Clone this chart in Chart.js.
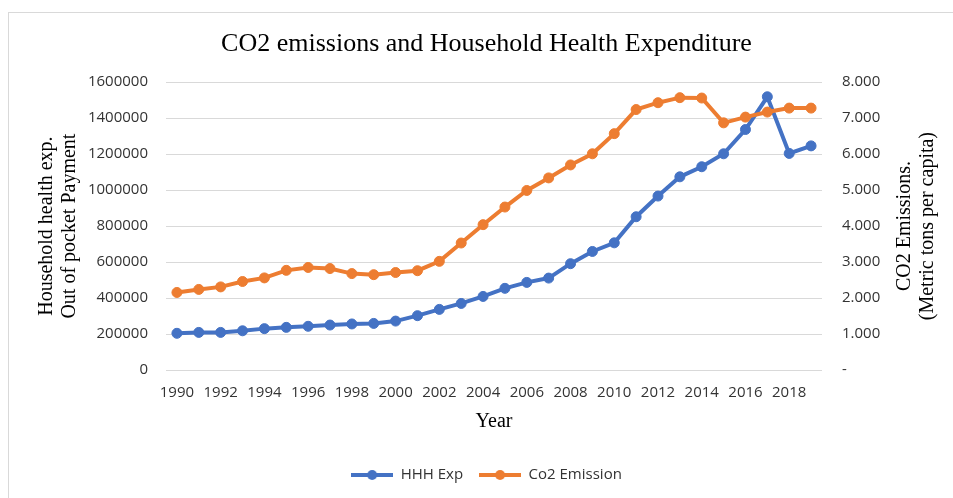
<!DOCTYPE html>
<html><head><meta charset="utf-8">
<script src="https://cdn.jsdelivr.net/npm/chart.js@4.4.1/dist/chart.umd.min.js"></script>
<style>
html,body{margin:0;padding:0;background:#fff;overflow:hidden}
#wrap{position:relative;width:953px;height:498px}
#frame{position:absolute;left:8px;top:12px;width:2000px;height:2000px;border-left:1px solid #d9d9d9;border-top:1px solid #d9d9d9;box-sizing:border-box}
canvas{position:absolute;left:0;top:0}
</style></head><body>
<div id="wrap"><div id="frame"></div><canvas id="c" width="953" height="498"></canvas></div>
<script>
const years = ['1990','1991','1992','1993','1994','1995','1996','1997','1998','1999','2000','2001','2002','2003','2004','2005','2006','2007','2008','2009','2010','2011','2012','2013','2014','2015','2016','2017','2018','2019'];
const hhhExp = [204000,209000,209000,218000,230000,237000,243000,250000,256000,259000,272000,302000,337000,370000,409000,454000,487000,511000,591000,659000,707000,852000,967000,1074000,1130000,1202000,1337000,1519000,1204000,1246000];
const co2Emission = [2.155,2.24,2.31,2.46,2.56,2.77,2.85,2.82,2.68,2.65,2.71,2.76,3.02,3.53,4.04,4.53,4.99,5.34,5.70,6.01,6.57,7.24,7.43,7.57,7.56,6.87,7.03,7.17,7.28,7.28];
const seriesNames = ['HHH Exp','Co2 Emission'];
const chartTitle = 'CO2 emissions and Household Health Expenditure';
const leftTitle = ['Household health exp.','Out of pocket Payment'];
const rightTitle = ['CO2 Emissions.','(Metric tons per capita)'];
const xTitle = 'Year';

const BLUE = '#4472C4', ORANGE = '#ED7D31';
const TICK_FONT = {family:'"Open Sans"', size:15};
const TICK_COLOR = '#333333';

function legendIcon(color){
  const c = document.createElement('canvas');
  c.width = 42; c.height = 12;
  const x = c.getContext('2d');
  x.strokeStyle = color; x.lineWidth = 4;
  x.beginPath(); x.moveTo(0,6); x.lineTo(42,6); x.stroke();
  x.fillStyle = color; x.beginPath(); x.arc(21,6,5,0,Math.PI*2); x.fill();
  return c;
}
const icons = [legendIcon(BLUE), legendIcon(ORANGE)];

const rightTitlePlugin = {
  id:'rightTitle',
  afterDraw(chart){
    const ctx = chart.ctx, a = chart.chartArea, s = chart.scales.y2;
    const cy = (a.top + a.bottom)/2;
    ctx.save();
    ctx.font = '20px "Liberation Serif"';
    ctx.fillStyle = '#000';
    ctx.textAlign = 'center'; ctx.textBaseline = 'middle';
    rightTitle.forEach((t,i)=>{
      ctx.save();
      ctx.translate(s.left + 83 + i*23, cy);
      ctx.rotate(-Math.PI/2);
      ctx.fillText(t,0,0);
      ctx.restore();
    });
    ctx.restore();
  }
};

new Chart(document.getElementById('c'), {
  type:'line',
  data:{
    labels: years,
    datasets:[
      {label:seriesNames[0], data:hhhExp, yAxisID:'y', borderColor:BLUE, backgroundColor:BLUE,
       pointBackgroundColor:BLUE, pointBorderColor:BLUE, borderWidth:4, pointRadius:5, pointBorderWidth:1, order:1, tension:0},
      {label:seriesNames[1], data:co2Emission, yAxisID:'y2', borderColor:ORANGE, backgroundColor:ORANGE,
       pointBackgroundColor:ORANGE, pointBorderColor:ORANGE, borderWidth:4, pointRadius:5, pointBorderWidth:1, order:0, tension:0}
    ]
  },
  options:{
    responsive:false, animation:false, devicePixelRatio:1,
    layout:{padding:{left:20,right:0,top:0,bottom:5.5}},
    plugins:{
      title:{display:true, text:chartTitle, color:'#000',
        font:{family:'"Liberation Serif"', size:26, weight:'normal', lineHeight:1.2},
        padding:{top:29,bottom:22}},
      legend:{display:true, position:'bottom',
        labels:{usePointStyle:true, pointStyleWidth:42, padding:16, color:TICK_COLOR, font:TICK_FONT,
          sort:(a,b)=>a.datasetIndex-b.datasetIndex,
          generateLabels(chart){
            const items = Chart.defaults.plugins.legend.labels.generateLabels(chart);
            items.forEach(it=>{ it.pointStyle = icons[it.datasetIndex]; });
            return items;
          }}},
      tooltip:{enabled:false}
    },
    scales:{
      x:{
        offset:true,
        grid:{display:false, drawTicks:false},
        border:{display:false},
        ticks:{autoSkip:false, maxRotation:0, padding:14, color:TICK_COLOR, font:TICK_FONT,
          callback:(v,i)=> i%2===0 ? years[i] : ''},
        title:{display:true, text:xTitle, color:'#000', font:{family:'"Liberation Serif"', size:20}, padding:{top:0,bottom:17.5}},
        afterFit(s){ s.height = 81.5; }
      },
      y:{
        position:'left', min:0, max:1600000,
        grid:{color:'#d9d9d9', lineWidth:1, drawTicks:false},
        border:{display:false},
        ticks:{stepSize:200000, padding:18, color:TICK_COLOR, font:TICK_FONT, callback:v=>String(v)},
        title:{display:true, text:leftTitle, color:'#000', font:{family:'"Liberation Serif"', size:20, lineHeight:1.15}, padding:{top:15,bottom:0}},
        afterFit(s){ s.width = 146; }
      },
      y2:{
        position:'right', min:0, max:8,
        grid:{display:false, drawTicks:false},
        border:{display:false},
        ticks:{stepSize:1, padding:20, color:TICK_COLOR, font:TICK_FONT, callback:v=> v===0 ? '-' : Number(v).toFixed(3)},
        afterFit(s){ s.width = 131; }
      }
    }
  },
  plugins:[rightTitlePlugin]
});
</script>
</body></html>
